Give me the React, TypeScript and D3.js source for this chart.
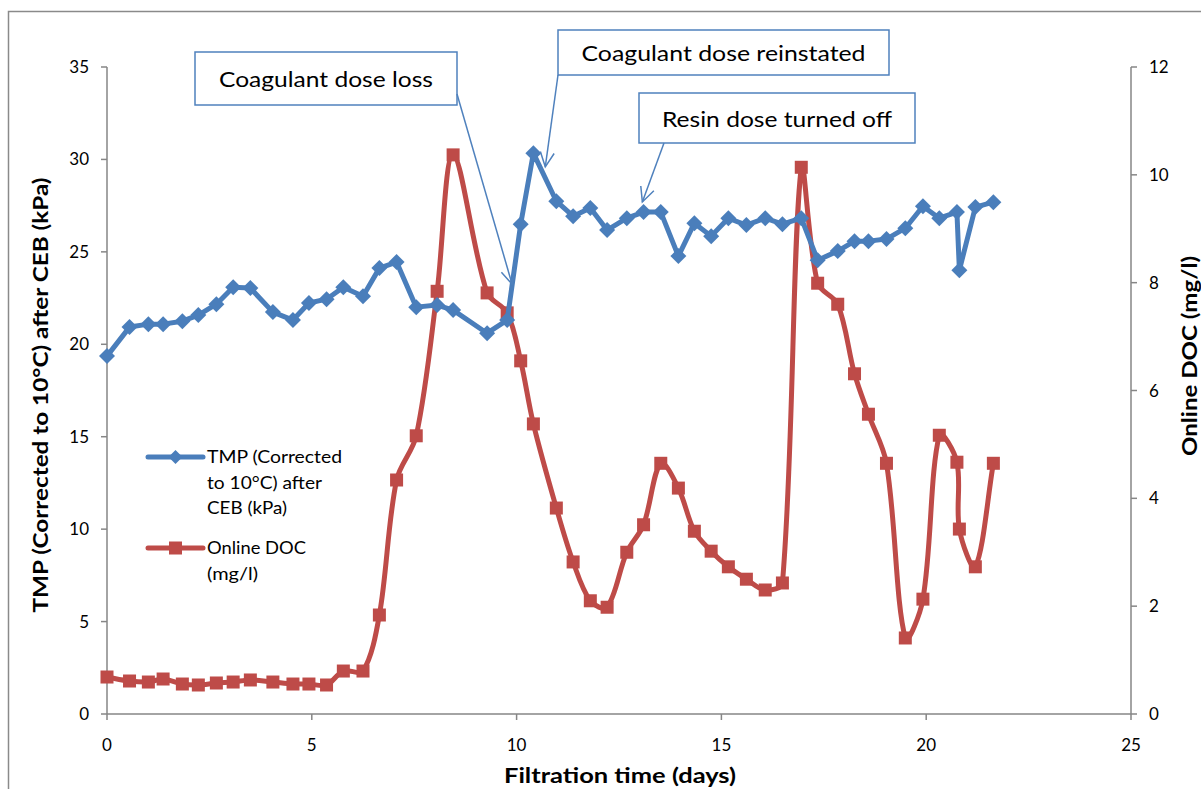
import React from "react";
import * as d3 from "d3";

const days = [0, 0.55, 1.01, 1.37, 1.84, 2.23, 2.67, 3.08, 3.5, 4.05, 4.54, 4.93, 5.36, 5.77, 6.25, 6.65, 7.07, 7.55, 8.06, 8.45, 9.28, 9.77, 10.1, 10.41, 10.97, 11.38, 11.8, 12.21, 12.69, 13.1, 13.52, 13.95, 14.34, 14.75, 15.17, 15.61, 16.07, 16.49, 16.95, 17.35, 17.84, 18.25, 18.59, 19.03, 19.49, 19.92, 20.32, 20.75, 20.81, 21.2, 21.64];
const tmp = [19.36, 20.93, 21.09, 21.09, 21.25, 21.58, 22.17, 23.09, 23.04, 21.74, 21.31, 22.23, 22.44, 23.09, 22.6, 24.12, 24.45, 22.01, 22.12, 21.85, 20.6, 21.31, 26.5, 30.34, 27.74, 26.93, 27.37, 26.18, 26.82, 27.15, 27.15, 24.77, 26.55, 25.85, 26.82, 26.45, 26.82, 26.5, 26.82, 24.55, 25.04, 25.58, 25.58, 25.69, 26.28, 27.47, 26.82, 27.15, 24.01, 27.42, 27.69];
const doc = [0.686, 0.612, 0.593, 0.649, 0.556, 0.538, 0.575, 0.593, 0.631, 0.593, 0.556, 0.556, 0.538, 0.797, 0.797, 1.836, 4.34, 5.16, 7.84, 10.37, 7.81, 7.44, 6.55, 5.38, 3.82, 2.82, 2.1, 1.98, 3.0, 3.51, 4.65, 4.19, 3.39, 3.02, 2.73, 2.5, 2.3, 2.43, 10.14, 7.99, 7.6, 6.31, 5.56, 4.65, 1.41, 2.13, 5.17, 4.67, 3.43, 2.73, 4.65];

const xTicks = [0, 5, 10, 15, 20, 25];
const leftTicks = [0, 5, 10, 15, 20, 25, 30, 35];
const rightTicks = [0, 2, 4, 6, 8, 10, 12];

const annotations = [
  { text: "Coagulant dose loss", len: 214, box: [195, 52, 262, 53], from: [457, 94], tip: [9.89, 23.25] },
  { text: "Coagulant dose reinstated", len: 284, box: [558, 30, 331, 45], from: [558, 75], tip: [10.7, 29.6] },
  { text: "Resin dose turned off", len: 230, box: [639, 93, 276, 50], from: [664, 143], tip: [13.07, 27.7] },
];

const tmpLegend = [
  { t: "TMP (Corrected", len: 135 },
  { t: "to 10°C) after", len: 115 },
  { t: "CEB (kPa)", len: 80 },
];
const docLegend = [
  { t: "Online DOC", len: 99 },
  { t: "(mg/l)", len: 51 },
];

const BLUE = "#4A7EBB";
const RED = "#BE4B48";
const AXIS = "#868686";
const FONT = "Lato, 'Open Sans', sans-serif";

// Excel-like smoothed line: Bezier with control points scaled by neighbouring segment lengths
function smoothPath(pts: [number, number][]): string {
  const p = d3.path();
  const n = pts.length;
  if (!n) return "";
  p.moveTo(pts[0][0], pts[0][1]);
  const s = 1 / 3;
  const dist = (a: [number, number], b: [number, number]) => Math.hypot(b[0] - a[0], b[1] - a[1]);
  for (let i = 0; i < n - 1; i++) {
    const P0 = pts[Math.max(0, i - 1)];
    const P1 = pts[i];
    const P2 = pts[i + 1];
    const P3 = pts[Math.min(n - 1, i + 2)];
    const d01 = dist(P0, P1), d12 = dist(P1, P2), d23 = dist(P2, P3);
    const f1 = d01 + d12 > 0 ? (s * d12) / (d01 + d12) : 0;
    const f2 = d12 + d23 > 0 ? (s * d12) / (d12 + d23) : 0;
    const c1x = P1[0] + f1 * (P2[0] - P0[0]);
    const c1y = P1[1] + f1 * (P2[1] - P0[1]);
    const c2x = P2[0] - f2 * (P3[0] - P1[0]);
    const c2y = P2[1] - f2 * (P3[1] - P1[1]);
    p.bezierCurveTo(c1x, c1y, c2x, c2y, P2[0], P2[1]);
  }
  return p.toString();
}

export default function App() {
  const W = 1201, H = 789;
  const L = 107, R = 1131, T = 67, B = 714;
  const x = d3.scaleLinear().domain([0, 25]).range([L, R]);
  const yL = d3.scaleLinear().domain([0, 35]).range([B, T]);
  const yR = d3.scaleLinear().domain([0, 12]).range([B, T]);

  const tmpLine = d3.line<number>().x((_, i) => x(days[i])).y((d) => yL(d))(tmp) || "";
  const docLine = smoothPath(doc.map((d, i) => [x(days[i]), yR(d)] as [number, number]));

  const diamond = (cx: number, cy: number, r: number) => `M${cx},${cy - r}L${cx + r},${cy}L${cx},${cy + r}L${cx - r},${cy}Z`;

  return (
    <svg width={W} height={H} style={{ position: "absolute", left: 0, top: 0, background: "#fff" }} fontFamily={FONT}>
      <rect x={0} y={0} width={W} height={H} fill="#fff" />
      <path d={`M8.5,${H}V11.5H${W}`} fill="none" stroke="#8a8a8a" strokeWidth={1.5} />

      {/* axes */}
      <line x1={L} x2={R} y1={B} y2={B} stroke={AXIS} strokeWidth={1.5} />
      <line x1={L} x2={L} y1={T} y2={B} stroke={AXIS} strokeWidth={1.5} />
      <line x1={R} x2={R} y1={T} y2={B} stroke={AXIS} strokeWidth={1.5} />
      {xTicks.map((t) => (
        <g key={"x" + t}>
          <line x1={x(t)} x2={x(t)} y1={B} y2={B + 6} stroke={AXIS} strokeWidth={1.5} />
          <text x={x(t)} y={B + 37} fontSize={17} textAnchor="middle" fill="#000">{t}</text>
        </g>
      ))}
      {leftTicks.map((t) => (
        <g key={"l" + t}>
          <line x1={L - 6} x2={L} y1={yL(t)} y2={yL(t)} stroke={AXIS} strokeWidth={1.5} />
          <text x={L - 18} y={yL(t) + 6} fontSize={17} textAnchor="end" fill="#000">{t}</text>
        </g>
      ))}
      {rightTicks.map((t) => (
        <g key={"r" + t}>
          <line x1={R} x2={R + 6} y1={yR(t)} y2={yR(t)} stroke={AXIS} strokeWidth={1.5} />
          <text x={R + 18} y={yR(t) + 6} fontSize={17} textAnchor="start" fill="#000">{t}</text>
        </g>
      ))}

      {/* axis titles */}
      <text x={620} y={783} fontSize={21} fontWeight="bold" textAnchor="middle" textLength={232} lengthAdjust="spacingAndGlyphs">Filtration time (days)</text>
      <text transform="translate(48,395) rotate(-90)" fontSize={21} fontWeight="bold" textAnchor="middle" textLength={435} lengthAdjust="spacingAndGlyphs">TMP (Corrected to 10°C) after CEB (kPa)</text>
      <text transform="translate(1197,356) rotate(-90)" fontSize={21} fontWeight="bold" textAnchor="middle" textLength={200} lengthAdjust="spacingAndGlyphs">Online DOC (mg/l)</text>

      {/* series */}
      <path d={docLine} fill="none" stroke={RED} strokeWidth={5} strokeLinejoin="round" />
      {doc.map((d, i) => (
        <rect key={"s" + i} x={x(days[i]) - 6.5} y={yR(d) - 6.5} width={13} height={13} fill={RED} />
      ))}
      <path d={tmpLine} fill="none" stroke={BLUE} strokeWidth={5} strokeLinejoin="round" />
      {tmp.map((d, i) => (
        <path key={"d" + i} d={diamond(x(days[i]), yL(d), 8)} fill={BLUE} />
      ))}

      {/* legend */}
      <line x1={148} x2={203} y1={457} y2={457} stroke={BLUE} strokeWidth={5} strokeLinecap="round" />
      <path d={diamond(175.5, 457, 7)} fill={BLUE} />
      {tmpLegend.map((l, i) => (
        <text key={"tl" + i} x={207} y={463 + i * 25.5} fontSize={18} textLength={l.len} lengthAdjust="spacingAndGlyphs">{l.t}</text>
      ))}
      <line x1={148} x2={203} y1={548} y2={548} stroke={RED} strokeWidth={5} strokeLinecap="round" />
      <rect x={169} y={541.5} width={13} height={13} fill={RED} />
      {docLegend.map((l, i) => (
        <text key={"dl" + i} x={207} y={554 + i * 25.5} fontSize={18} textLength={l.len} lengthAdjust="spacingAndGlyphs">{l.t}</text>
      ))}

      {/* annotations */}
      {annotations.map((a, i) => {
        const [bx, by, bw, bh] = a.box;
        const tx = x(a.tip[0]);
        const ty = yL(a.tip[1]);
        const [fx, fy] = a.from;
        const ang = Math.atan2(ty - fy, tx - fx);
        const len = 16, spread = 0.45;
        const a1 = [tx - len * Math.cos(ang - spread), ty - len * Math.sin(ang - spread)];
        const a2 = [tx - len * Math.cos(ang + spread), ty - len * Math.sin(ang + spread)];
        return (
          <g key={"a" + i}>
            <rect x={bx} y={by} width={bw} height={bh} fill="#fff" stroke="#4F81BD" strokeWidth={1.5} />
            <text x={bx + bw / 2} y={by + bh / 2 + 8.5} fontSize={22} textAnchor="middle" textLength={a.len} lengthAdjust="spacingAndGlyphs">{a.text}</text>
            <line x1={fx} y1={fy} x2={tx} y2={ty} stroke="#4F81BD" strokeWidth={1.5} />
            <path d={`M${a1[0]},${a1[1]}L${tx},${ty}L${a2[0]},${a2[1]}`} fill="none" stroke="#4F81BD" strokeWidth={1.5} />
          </g>
        );
      })}
    </svg>
  );
}
